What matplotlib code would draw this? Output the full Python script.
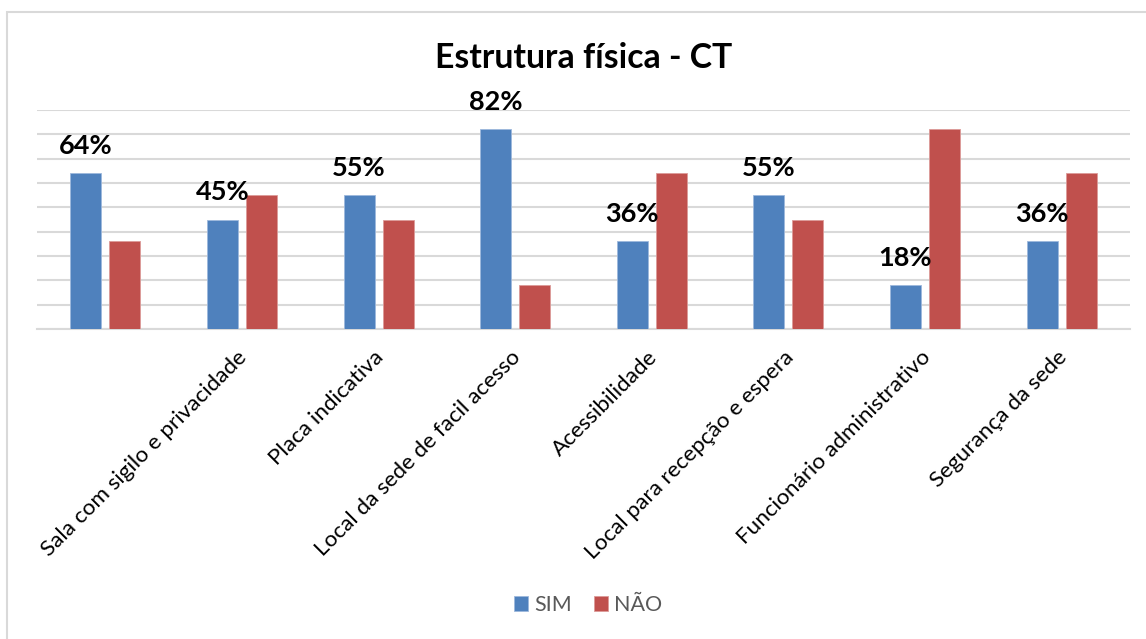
import matplotlib
matplotlib.use("Agg")
import matplotlib.pyplot as plt
from matplotlib.patches import Rectangle
import matplotlib.transforms as mtransforms
import numpy as np

categories = ["", "Sala com sigilo e privacidade", "Placa indicativa",
              "Local da sede de facil acesso", "Acessibilidade",
              "Local para recepção e espera", "Funcionário administrativo",
              "Segurança da sede"]
sim = [64, 45, 55, 82, 36, 55, 18, 36]
nao = [36, 55, 45, 18, 64, 45, 82, 64]
series_names = ["SIM", "NÃO"]
title = "Estrutura física - CT"

FONT = ["Lato", "DejaVu Sans"]
plt.rcParams["font.family"] = FONT

W, H = 1146, 639
fig = plt.figure(figsize=(W / 100, H / 100), dpi=100)
fig.patch.set_facecolor("white")

# outer chart border
fig.patches.append(Rectangle((7 / W, -0.01), 1.05, (639 - 12) / H + 0.01,
                             transform=fig.transFigure, fill=False,
                             edgecolor="#d9d9d9", linewidth=1.5))

ax = fig.add_axes([37 / W, 1 - 329 / H, (1130 - 37) / W, (329 - 110) / H])
x = np.arange(len(categories))
bw = 0.227
off = 0.143
b1 = ax.bar(x - off, sim, bw, color="#4F81BD", edgecolor="#9db8dc", linewidth=0.6,
            label=series_names[0], zorder=3)
b2 = ax.bar(x + off, nao, bw, color="#C0504D", edgecolor="#dc9a98", linewidth=0.6,
            label=series_names[1], zorder=3)

ax.set_xlim(-0.5, len(categories) - 0.5)
ax.set_ylim(0, 90)
ax.set_yticks(np.arange(0, 91, 10))
ax.yaxis.grid(True, color="#d9d9d9", linewidth=1.5, zorder=0)
ax.tick_params(axis="y", left=False, labelleft=False)
ax.tick_params(axis="x", bottom=False, length=0)
for s in ["left", "right", "top"]:
    ax.spines[s].set_visible(False)
ax.spines["bottom"].set_color("#d9d9d9")
ax.spines["bottom"].set_linewidth(1.5)

ax.set_xticks(x)
ax.set_xticklabels(categories, rotation=45, ha="right", va="top",
                   rotation_mode="anchor", fontsize=16.2, color="black")
shift = mtransforms.ScaledTranslation(-5 / 100, -8 / 100, fig.dpi_scale_trans)
for lbl in ax.get_xticklabels():
    lbl.set_y(-0.025)
    lbl.set_transform(lbl.get_transform() + shift)

for rect, v in zip(b1, sim):
    ax.annotate(f"{v}%", (rect.get_x() + rect.get_width() / 2, rect.get_height()),
                xytext=(0, 15), textcoords="offset pixels", ha="center", va="bottom",
                fontsize=19.5, fontweight="bold", color="black")

fig.text(584 / W, 1 - 58 / H, title, ha="center", va="center",
         fontsize=24.3, fontweight="bold", color="black")

leg = fig.legend(handles=[b1, b2], labels=series_names, loc="center",
                 bbox_to_anchor=(588 / W, 1 - 605 / H), ncol=2, frameon=False,
                 fontsize=15.5, handlelength=0.65, handleheight=0.65,
                 handletextpad=0.3, columnspacing=1.0)
for t in leg.get_texts():
    t.set_color("#595959")

fig.savefig("out.png", dpi=100)
